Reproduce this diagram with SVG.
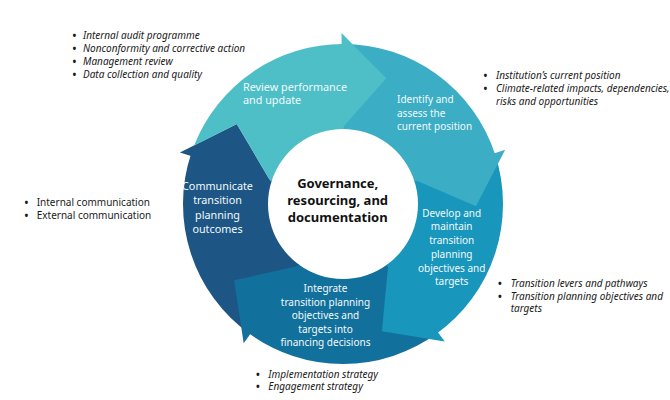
<svg xmlns="http://www.w3.org/2000/svg" width="670" height="400" viewBox="0 0 670 400">
<style>
.st{font-family:"Noto Sans","Open Sans","DejaVu Sans",sans-serif;fill:#F2FAFB;}
.s11{font-size:10.8px}
.s10{font-size:10px}
.mid{text-anchor:middle}
.ctr{font-family:"Noto Sans","Open Sans","DejaVu Sans",sans-serif;font-weight:700;font-size:13px;fill:#111;text-anchor:middle}
.note{font-family:"Noto Sans","Open Sans","DejaVu Sans",sans-serif;font-size:10px;fill:#1a1a1a}
.bul{font-family:"Noto Sans","Open Sans","DejaVu Sans",sans-serif;font-size:10px;font-weight:700;fill:#1a1a1a}
.it{font-style:italic}
.c-rev{fill:#4EBFC7}
.c-idn{fill:#3BADC4}
.c-dev{fill:#1896BC}
.c-int{fill:#12709C}
.c-com{fill:#1D5584}
</style>
<rect width="670" height="400" fill="#ffffff"/>

<g id="communicate">
<path class="c-com" d="M250.09,334.26 A160,160 0 0 1 191.27,153.23 L271.88,180.20 A75,75 0 0 0 299.45,265.06 Z"/>
<polygon class="c-com" points="179.91,152.58 236.78,123.96 270.52,181.15"/>
<text class="st s11 mid"><tspan x="217.5" y="190">Communicate</tspan><tspan x="217.5" y="204.4">transition</tspan><tspan x="217.5" y="218.8">planning</tspan><tspan x="217.5" y="233.2">outcomes</tspan></text>
</g>

<g id="integrate">
<path class="c-int" d="M438.17,332.62 A160,160 0 0 1 247.83,332.62 L298.39,264.29 A75,75 0 0 0 387.61,264.29 Z"/>
<polygon class="c-int" points="243.70,343.21 234.05,280.29 298.87,265.87"/>
<text class="st s10 mid"><tspan x="325.5" y="292">Integrate</tspan><tspan x="325.5" y="305.5">transition planning</tspan><tspan x="325.5" y="319">objectives and</tspan><tspan x="325.5" y="332.5">targets into</tspan><tspan x="325.5" y="346">financing decisions</tspan></text>
</g>

<g id="develop">
<path class="c-dev" d="M494.73,153.23 A160,160 0 0 1 435.91,334.26 L386.55,265.06 A75,75 0 0 0 414.12,180.20 Z"/>
<polygon class="c-dev" points="444.71,341.46 381.89,331.19 388.21,265.09"/>
<text class="st s10 mid"><tspan x="451.7" y="216.7">Develop and</tspan><tspan x="451.7" y="230.4">maintain</tspan><tspan x="451.7" y="244.1">transition</tspan><tspan x="451.7" y="257.8">planning</tspan><tspan x="451.7" y="271.5">objectives and</tspan><tspan x="451.7" y="285.2">targets</tspan></text>
</g>

<g id="identify">
<path class="c-idn" d="M341.60,44.01 A160,160 0 0 1 495.59,155.89 L414.53,181.45 A75,75 0 0 0 342.35,129.00 Z"/>
<polygon class="c-idn" points="505.16,149.74 475.98,206.32 415.07,179.89"/>
<text class="st s10"><tspan x="397" y="103.3">Identify and</tspan><tspan x="397" y="116.7">assess the</tspan><tspan x="397" y="130">current position</tspan></text>
</g>

<g id="review">
<path class="c-rev" d="M194.10,145.44 A160,160 0 0 1 344.40,44.01 L343.65,129.00 A75,75 0 0 0 271.47,181.45 L270.52,181.15 L236.78,123.96 Z"/>
<polygon class="c-rev" points="341.51,33.00 386.30,78.25 342.34,128.00"/>
<text class="st s11"><tspan x="243" y="90.7">Review performance</tspan><tspan x="243" y="104.3">and update</tspan></text>
</g>

<g id="governance">
<text class="ctr"><tspan x="337.7" y="188.3">Governance,</tspan><tspan x="337.7" y="205">resourcing, and</tspan><tspan x="337.7" y="221.7">documentation</tspan></text>
</g>

<g id="connectors"></g>

<g id="notes-review">
<text class="bul"><tspan x="72.5" y="38.5">•</tspan><tspan x="72.5" y="51.8">•</tspan><tspan x="72.5" y="65">•</tspan><tspan x="72.5" y="78.3">•</tspan></text>
<text class="note it"><tspan x="83" y="38.5">Internal audit programme</tspan><tspan x="83" y="51.8">Nonconformity and corrective action</tspan><tspan x="83" y="65">Management review</tspan><tspan x="83" y="78.3">Data collection and quality</tspan></text>
</g>

<g id="notes-identify">
<text class="bul"><tspan x="483.5" y="78.5">•</tspan><tspan x="483.5" y="91.8">•</tspan></text>
<text class="note it"><tspan x="496" y="78.5">Institution’s current position</tspan><tspan x="496" y="91.8">Climate-related impacts, dependencies,</tspan><tspan x="496" y="105.1">risks and opportunities</tspan></text>
</g>

<g id="notes-communicate">
<text class="bul"><tspan x="24.5" y="206">•</tspan><tspan x="24.5" y="219">•</tspan></text>
<text class="note"><tspan x="36.7" y="206">Internal communication</tspan><tspan x="36.7" y="219">External communication</tspan></text>
</g>

<g id="notes-develop">
<text class="bul"><tspan x="498" y="286.8">•</tspan><tspan x="498" y="299.5">•</tspan></text>
<text class="note it"><tspan x="510.7" y="286.8">Transition levers and pathways</tspan><tspan x="510.7" y="299.5">Transition planning objectives and</tspan><tspan x="510.7" y="312.2">targets</tspan></text>
</g>

<g id="notes-integrate">
<text class="bul"><tspan x="256" y="377.5">•</tspan><tspan x="256" y="390">•</tspan></text>
<text class="note it"><tspan x="268.3" y="377.5">Implementation strategy</tspan><tspan x="268.3" y="390">Engagement strategy</tspan></text>
</g>
</svg>
